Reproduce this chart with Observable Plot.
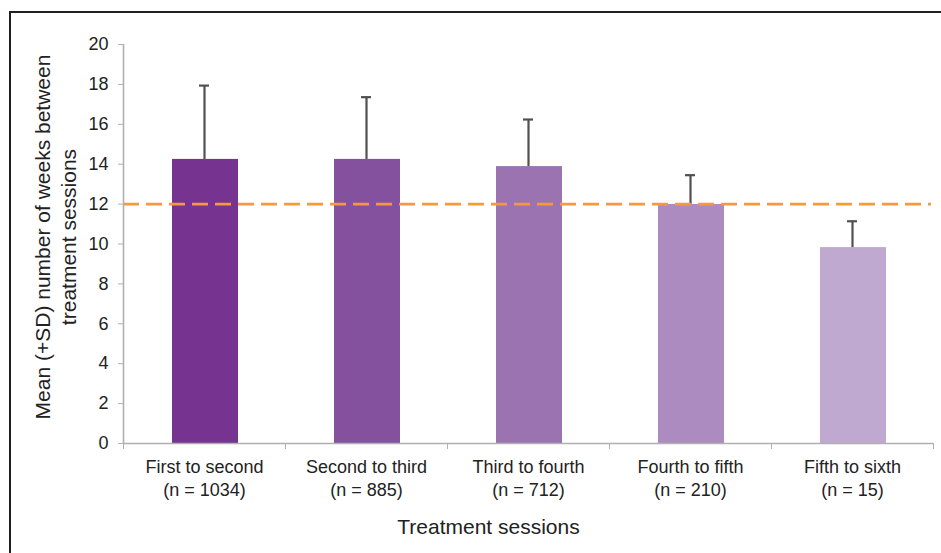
<!DOCTYPE html>
<html>
<head>
<meta charset="utf-8">
<script src="https://cdn.jsdelivr.net/npm/d3@7"></script>
<script src="https://cdn.jsdelivr.net/npm/@observablehq/plot@0.6"></script>
<style>
  html, body { margin: 0; padding: 0; background: #fff; }
  #wrap { position: relative; width: 941px; height: 553px; overflow: hidden; }
  #border { position: absolute; left: 9px; top: 11px; right: -5px; bottom: -5px;
            border-top: 2.5px solid #231f20; border-left: 2.5px solid #231f20; pointer-events: none; }
</style>
</head>
<body>
<div id="wrap"><div id="chart"></div><div id="border"></div></div>
<script>
const categories = ["First to second", "Second to third", "Third to fourth", "Fourth to fifth", "Fifth to sixth"];
const nLabels = ["(n = 1034)", "(n = 885)", "(n = 712)", "(n = 210)", "(n = 15)"];
const means = [14.24, 14.24, 13.88, 11.98, 9.82];
const sds = [3.70, 3.12, 2.36, 1.47, 1.32];
const colors = ["#76338f", "#84519f", "#9a73b0", "#ac8cc0", "#c0a9d0"];
const yTicks = [0, 2, 4, 6, 8, 10, 12, 14, 16, 18, 20];
const threshold = 12;

const data = categories.map((c, i) => ({
  i, c, label: c + "\n" + nLabels[i], mean: means[i], top: means[i] + sds[i], color: colors[i]
}));

const font = "Liberation Sans, Arial, Helvetica, sans-serif";

const chart = Plot.plot({
  width: 941,
  height: 553,
  marginLeft: 123,
  marginRight: 8,
  marginTop: 44,
  marginBottom: 110,
  style: { fontFamily: font, background: "transparent", color: "#222" },
  x: { type: "linear", domain: [0, categories.length], axis: null },
  y: { domain: [0, 20], axis: null },
  marks: [
    Plot.rectY(data, { x1: d => d.i, x2: d => d.i + 1, y1: 0, y2: "mean", fill: "color", insetLeft: 49, insetRight: 47 }),
    Plot.ruleX(data, { x: d => d.i + 0.5, y1: "mean", y2: "top", stroke: "#505050", strokeWidth: 2.2 }),
    Plot.ruleY(data, { x1: d => d.i + 0.5, x2: d => d.i + 0.5, y: "top", stroke: "#505050", strokeWidth: 2.2, insetLeft: -5, insetRight: -5 }),
    Plot.ruleY([threshold], { stroke: "#f39a3c", strokeWidth: 2.6, strokeDasharray: "16,7", insetRight: 2 }),
    // y axis
    Plot.ruleX([0], { stroke: "#b0b0b0", strokeWidth: 1.6 }),
    Plot.axisY({ ticks: yTicks, tickSize: 5, tickPadding: 10, stroke: "#b0b0b0", fontSize: 18, tickFormat: d => d, color: "#222" }),
    // x axis
    Plot.ruleY([0], { stroke: "#b0b0b0", strokeWidth: 1.6 }),
    Plot.axisX({ ticks: d3.range(categories.length + 1), tickSize: 6, tickFormat: () => "", stroke: "#b0b0b0" }),
    Plot.text(data, { x: d => d.i + 0.5, y: 0, text: "label", lineAnchor: "top", dy: 14, fontSize: 18, lineHeight: 1.25, fill: "#222" }),
    Plot.text(["Treatment sessions"], { frameAnchor: "bottom", text: d => d, dx: -40, dy: 90, fontSize: 21, fill: "#222" }),
    Plot.text(["Mean (+SD) number of weeks between\ntreatment sessions"], {
      frameAnchor: "left", textAnchor: "middle", text: d => d, rotate: -90, dx: -68.5, dy: -7, fontSize: 21, lineHeight: 1.2, fill: "#222"
    })
  ]
});
document.getElementById("chart").appendChild(chart);
</script>
</body>
</html>
